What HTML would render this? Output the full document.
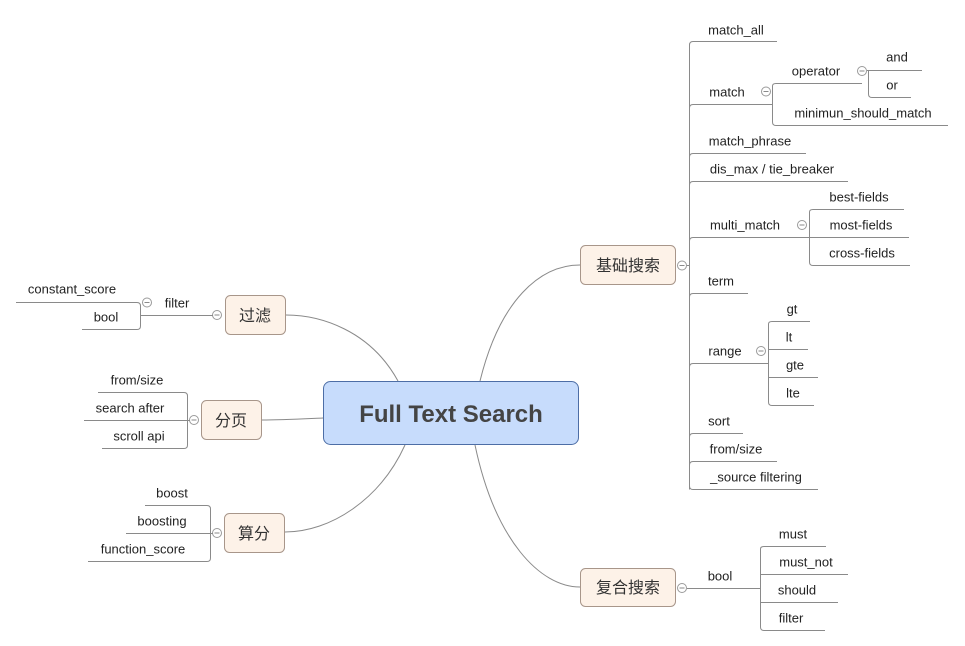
<!DOCTYPE html>
<html><head><meta charset="utf-8"><style>
html,body{margin:0;padding:0;background:#fff;}
svg{display:block;}
text{font-family:"Liberation Sans","Noto Sans CJK SC",sans-serif;font-size:13px;fill:#222;text-anchor:middle;}
.cn{font-size:16px;fill:#333;}
.l{stroke:#8a8a8a;stroke-width:1;fill:none;}
.c circle{fill:#fff;stroke:#9a9a9a;stroke-width:1;}
.c line{stroke:#8a8a8a;stroke-width:1;}
</style></head><body>
<svg width="965" height="646" viewBox="0 0 965 646" xmlns="http://www.w3.org/2000/svg">
<defs>
<g id="col" class="c"><circle cx="0" cy="0" r="4.5"/><line x1="-2.5" y1="0" x2="2.5" y2="0"/></g>
</defs>
<!-- main curves -->
<path class="l" d="M480,381 C500,300 540,265 580,265"/>
<path class="l" d="M475,445 C495,540 540,587 580,587"/>
<path class="l" d="M398,381 C370,330 320,315 286,315"/>
<path class="l" d="M323,418 C300,419 280,420 262,420"/>
<path class="l" d="M405,445 C380,500 330,532 285,532"/>

<!-- central -->
<rect x="323.5" y="381.5" width="255" height="63" rx="7" fill="#c7dcfc" stroke="#4d6ea6" stroke-width="1"/>
<text x="451" y="422" style="font-size:24px;font-weight:bold;fill:#444">Full Text Search</text>

<!-- topic boxes -->
<rect x="580.5" y="245.5" width="95" height="39" rx="5" fill="#fdf2e8" stroke="#a8968a"/>
<text class="cn" x="628" y="271">基础搜索</text>
<rect x="580.5" y="568.5" width="95" height="38" rx="5" fill="#fdf2e8" stroke="#a8968a"/>
<text class="cn" x="628" y="593">复合搜索</text>
<rect x="225.5" y="295.5" width="60" height="39" rx="5" fill="#fdf2e8" stroke="#a8968a"/>
<text class="cn" x="255" y="321">过滤</text>
<rect x="201.5" y="400.5" width="60" height="39" rx="5" fill="#fdf2e8" stroke="#a8968a"/>
<text class="cn" x="231" y="426">分页</text>
<rect x="224.5" y="513.5" width="60" height="39" rx="5" fill="#fdf2e8" stroke="#a8968a"/>
<text class="cn" x="254" y="539">算分</text>

<!-- 基础搜索 tree -->
<line class="l" x1="686" y1="265.5" x2="689.5" y2="265.5"/>
<path class="l" d="M689.5,489.5 V45 Q689.5,41.5 693,41.5 H777"/>
<path class="l" d="M689.5,108 Q689.5,104.5 693,104.5 H772.5"/>
<path class="l" d="M689.5,157 Q689.5,153.5 693,153.5 H806"/>
<path class="l" d="M689.5,185 Q689.5,181.5 693,181.5 H848"/>
<path class="l" d="M689.5,241 Q689.5,237.5 693,237.5 H809.5"/>
<path class="l" d="M689.5,297 Q689.5,293.5 693,293.5 H748"/>
<path class="l" d="M689.5,367 Q689.5,363.5 693,363.5 H768.5"/>
<path class="l" d="M689.5,437 Q689.5,433.5 693,433.5 H743"/>
<path class="l" d="M689.5,465 Q689.5,461.5 693,461.5 H777"/>
<path class="l" d="M689.5,486 Q689.5,489.5 693,489.5 H818"/>
<use href="#col" x="682" y="265.5"/>
<text x="736" y="34.5">match_all</text>
<text x="727" y="96.5">match</text>
<text x="750" y="145.5">match_phrase</text>
<text x="772" y="173.5">dis_max / tie_breaker</text>
<text x="745" y="229.5">multi_match</text>
<text x="721" y="285.5">term</text>
<text x="725" y="355.5">range</text>
<text x="719" y="425.5">sort</text>
<text x="736" y="453.5">from/size</text>
<text x="756" y="481.5">_source filtering</text>

<!-- match sub -->
<use href="#col" x="766" y="91.5"/>
<path class="l" d="M772.5,86 Q772.5,83.5 776,83.5 H862 M772.5,86 V122 Q772.5,125.5 776,125.5 H948"/>
<text x="816" y="75.5">operator</text>
<text x="863" y="117.5">minimun_should_match</text>
<use href="#col" x="862" y="71"/>
<path class="l" d="M867,70.5 H922 M868.5,70.5 V94 Q868.5,97.5 872,97.5 H911"/>
<text x="897" y="61.5">and</text>
<text x="892" y="89.5">or</text>

<!-- multi_match sub -->
<use href="#col" x="802" y="225"/>
<path class="l" d="M809.5,212 Q809.5,209.5 813,209.5 H904 M809.5,212 V262 Q809.5,265.5 813,265.5 H910 M809.5,237.5 H909"/>
<text x="859" y="201.5">best-fields</text>
<text x="861" y="229.5">most-fields</text>
<text x="862" y="257.5">cross-fields</text>

<!-- range sub -->
<use href="#col" x="761" y="351"/>
<path class="l" d="M768.5,324 Q768.5,321.5 772,321.5 H810 M768.5,324 V402 Q768.5,405.5 772,405.5 H814 M768.5,349.5 H808 M768.5,377.5 H818"/>
<text x="792" y="313.5">gt</text>
<text x="789" y="341.5">lt</text>
<text x="795" y="369.5">gte</text>
<text x="793" y="397.5">lte</text>

<!-- 复合搜索 -->
<use href="#col" x="682" y="588"/>
<path class="l" d="M687,588.5 H760.5 M760.5,549 Q760.5,546.5 764,546.5 H826 M760.5,549 V627 Q760.5,630.5 764,630.5 H825 M760.5,574.5 H848 M760.5,602.5 H838"/>
<text x="720" y="580.5">bool</text>
<text x="793" y="538.5">must</text>
<text x="806" y="566.5">must_not</text>
<text x="797" y="594.5">should</text>
<text x="791" y="622.5">filter</text>

<!-- 过滤 -->
<use href="#col" x="217" y="315"/>
<path class="l" d="M141,315.5 H213"/>
<path class="l" d="M16,302.5 H137 Q140.5,302.5 140.5,306 V326 Q140.5,329.5 137,329.5 H82"/>
<use href="#col" x="147" y="302.5"/>
<text x="177" y="307.5">filter</text>
<text x="72" y="293.5">constant_score</text>
<text x="106" y="321.5">bool</text>

<!-- 分页 -->
<use href="#col" x="194" y="420"/>
<path class="l" d="M98,392.5 H184 Q187.5,392.5 187.5,396 V445 Q187.5,448.5 184,448.5 H102 M84,420.5 H190"/>
<text x="137" y="384.5">from/size</text>
<text x="130" y="412.5">search after</text>
<text x="139" y="440.5">scroll api</text>

<!-- 算分 -->
<use href="#col" x="217" y="533"/>
<path class="l" d="M145,505.5 H207 Q210.5,505.5 210.5,509 V558 Q210.5,561.5 207,561.5 H88 M126,533.5 H213"/>
<text x="172" y="497.5">boost</text>
<text x="162" y="525.5">boosting</text>
<text x="143" y="553.5">function_score</text>
</svg>
</body></html>
